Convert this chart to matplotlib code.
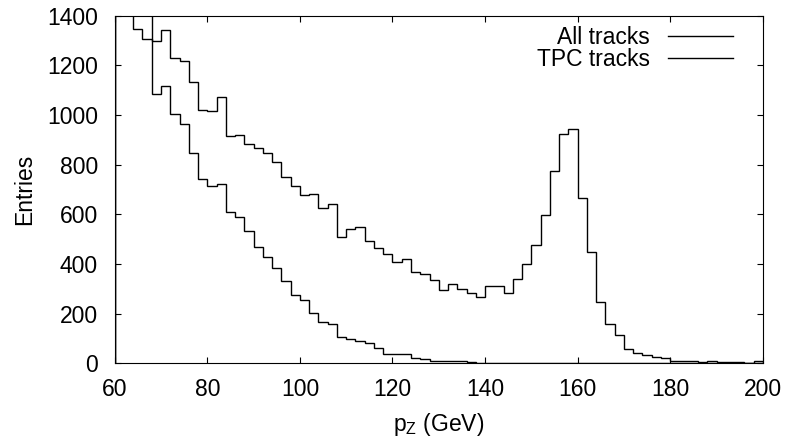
import matplotlib

matplotlib.use("Agg")
import matplotlib.pyplot as plt
import numpy as np

# bin edges: 2 GeV bins from 60 to 200
EDGES = np.arange(60, 202, 2)

# "All tracks" entries per bin (first bins are off-scale, above 1400)
all_tracks = [
    1600, 1480, 1345, 1305, 1300, 1341, 1231, 1219, 1132, 1020,
    1016, 1074, 915, 919, 882, 866, 848, 812, 749, 714,
    678, 682, 625, 643, 507, 541, 548, 494, 466, 442,
    409, 421, 368, 361, 334, 295, 318, 300, 284, 267,
    311, 311, 284, 340, 400, 476, 597, 774, 922, 942,
    667, 450, 246, 158, 113, 58, 40, 32, 27, 23,
    9, 9, 9, 4, 11, 6, 7, 5, 3, 10,
]

# "TPC tracks" entries per bin
tpc_tracks = [
    2200, 1950, 1700, 1500, 1083, 1117, 1005, 962, 848, 741,
    713, 722, 608, 590, 533, 470, 427, 383, 333, 275,
    255, 204, 168, 158, 107, 97, 89, 80, 60, 37,
    38, 38, 23, 17, 9, 11, 10, 11, 5, 2,
    3, 2, 1, 2, 1, 1, 2, 1, 2, 1,
    1, 1, 1, 0, 1, 1, 1, 0, 1, 1,
    0, 1, 0, 1, 2, 1, 1, 2, 1, 3,
]

plt.rcParams["font.family"] = ["Liberation Sans", "DejaVu Sans"]
plt.rcParams["mathtext.default"] = "regular"
FS = 16.5

fig = plt.figure(figsize=(7.89, 4.41), dpi=100)
ax = fig.add_axes([0.1454, 0.1762, 0.8214, 0.7882])

ax.stairs(all_tracks, EDGES, color="black", lw=1.0, label="All tracks")
ax.stairs(tpc_tracks, EDGES, color="black", lw=1.0, label="TPC tracks")

ax.set_xlim(60, 200)
ax.set_ylim(0, 1400)
ax.set_xticks(np.arange(60, 201, 20))
ax.set_yticks(np.arange(0, 1401, 200))
ax.tick_params(direction="in", top=True, right=True, length=4.5, width=0.8,
               labelsize=FS)
ax.tick_params(axis="y", pad=12)
ax.tick_params(axis="x", pad=10.5)
for s in ax.spines.values():
    s.set_linewidth(0.8)

ax.set_xlabel(r"p$_{Z}$ (GeV)", fontsize=FS, labelpad=7)
ax.set_ylabel("Entries", fontsize=FS, labelpad=8)

ax.legend(loc="upper right", frameon=False, markerfirst=False, fontsize=FS,
          handlelength=2.84, handletextpad=0.79, labelspacing=-0.04,
          borderaxespad=0.1, bbox_to_anchor=(0.972, 1.003))

fig.savefig("out.png", dpi=100)
